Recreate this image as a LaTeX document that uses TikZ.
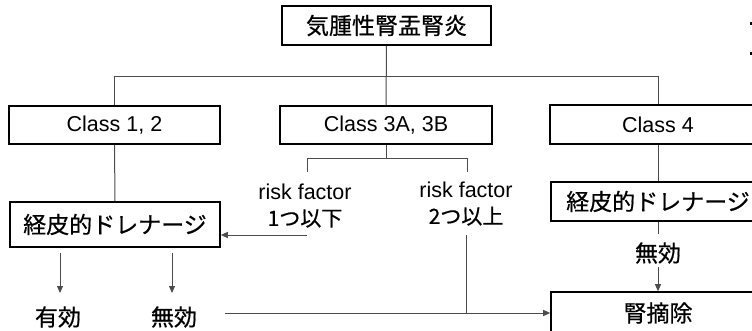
\documentclass[tikz,border=0pt]{standalone}
\usepackage{fontspec}
\setmainfont{Noto Sans CJK JP}[FakeBold=0.6]
\newfontfamily\lat{Liberation Sans}
\usetikzlibrary{arrows.meta}
\begin{document}
\begin{tikzpicture}[x=1pt,y=-1pt,
  box/.style={draw=black, line width=1.6pt, inner sep=0pt, fill=white},
  big/.style={font=\fontsize{23}{26}\selectfont},
  cls/.style={font=\lat\fontsize{21.5}{24}\selectfont},
  conn/.style={draw=black!70, line width=1pt},
  arr/.style={conn, -{Triangle[length=7pt,width=6pt]}},
  lbl/.style={inner sep=0pt, align=center}]
\useasboundingbox (0,0) rectangle (752,331);
\clip (0,0) rectangle (752,331);
% boxes
\node[box,big,minimum width=209pt,minimum height=39pt] (top) at (386.5,25.5) {気腫性腎盂腎炎};
\node[box,cls,minimum width=211pt,minimum height=38pt] (c12) at (114.5,125) {Class 1, 2};
\node[box,cls,minimum width=212pt,minimum height=38pt] (c3) at (386,125) {Class 3A, 3B};
\node[box,cls,minimum width=216pt,minimum height=39pt] (c4) at (658,124.5) {Class 4};
\node[box,big,minimum width=210pt,minimum height=45pt] (drL) at (115,224.5) {経皮的ドレナージ};
\node[box,big,minimum width=214pt,minimum height=39pt] (drR) at (658,201.5) {経皮的ドレナージ};
\node[box,big,minimum width=214pt,minimum height=42pt] (nep) at (658,313) {腎摘除};
% labels
\node[lbl,font=\lat\fontsize{21.5}{28}\selectfont] (rf1) at (305,206) {risk factor\\[-2pt]{\rmfamily\fontsize{21}{24}\selectfont 1つ以下}};
\node[lbl,font=\lat\fontsize{21.5}{28}\selectfont] (rf2) at (466,204) {risk factor\\[-2pt]{\rmfamily\fontsize{21}{24}\selectfont 2つ以上}};
\node[lbl,big] (yuko) at (58,317) {有効};
\node[lbl,big] (muko1) at (174,317) {無効};
\node[lbl,big] (muko2) at (658,253) {無効};
% coordinates
\coordinate (t1) at (307,172);
\coordinate (t2) at (467,172);
\coordinate (r1) at (307,235);
\coordinate (r2) at (466,235);
\coordinate (m) at (225,313);
% connectors
\draw[conn] (top.south) -- (c3.north);
\draw[conn] (c12.north) -- ++(0,-29) -| (c4.north);
\draw[conn] (c3.south) -- ++(0,14) -| (t1);
\draw[conn] (c3.south) ++(0,14) -| (t2);
\draw[conn] (c12.south) -- (drL.north);
\draw[arr] (r1) -- (r1 -| drL.east);
\draw[conn] (r2) -- (r2 |- m);
\draw[arr] (m) -- (m -| nep.west);
\draw[arr] ([yshift=-5pt]drL.south -| 60,0) -- (60,293);
\draw[arr] ([yshift=-5pt]drL.south -| 172,0) -- (172,293);
\draw[conn] (c4.south) -- (drR.north);
\draw[conn] (drR.south) -- ++(0,12);
\draw[arr] ([yshift=-3pt]muko2.south) -- (nep.north);
% cut-off marks at right edge
\fill (749.5,22) rectangle (752,25);
\fill (749.5,52) rectangle (752,55);
\end{tikzpicture}
\end{document}
